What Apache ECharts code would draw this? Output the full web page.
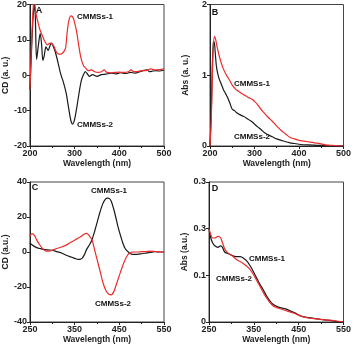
<!DOCTYPE html>
<html>
<head>
<meta charset="utf-8">
<script src="https://cdn.jsdelivr.net/npm/echarts@6/dist/echarts.min.js"></script>
<style>
  html, body { margin: 0; padding: 0; background: #fff; }
  #chart { width: 354px; height: 348px; }
</style>
</head>
<body>
<div id="chart"></div>
<script>
// Panel A: CD, 200-500 nm
const aRedWave = [200,202,204,206,208,210,212,215,218,222,
  226,232,239,244,247,252,256,260,265,269,
  273,277,280,283,287,292,297,302,305,309,
  314,320,325,331,338,345,352,360,366,372,
  380,390,400,410,420,426,432,440,450,460,
  470,480,490,500]
const aRedCD = [-4,3,10,16,20,21,19,16.5,15,13,
  11.8,9.9,8.6,9,9.1,8.6,7.5,6.4,6,6,
  6.3,6.9,7.8,11.7,15.4,16.8,16.2,13.8,12,8.6,
  5,2.7,2,1.3,1.5,1,0.8,1,1.5,0.8,
  0.7,0.8,0.9,0.8,1,1.5,1,1,1.3,1.3,
  1.8,1.5,1.6,1.8]
const aBlackWave = [200,202,204,206,208,210,212,215,219,223,
  226,229,232,236,241,244,248,252,257,263,
  269,275,281,287,292,296,300,305,310,315,
  320,324,328,333,340,350,360,370,381,392,
  403,414,425,435,446,455,462,468,475,483,
  490,500]
const aBlackCD = [-4,2,8,14,18,20,17,4.5,8.5,11.8,
  9,4.2,5.5,8,7,8,9.1,8.2,6.5,3.5,
  0.3,-2,-5,-9.5,-13,-13.8,-12.5,-9,-5,-1.5,
  0.2,1,0.5,-0.3,0.2,-0.3,0.2,0.3,0.6,0.4,
  0.7,0.5,0.8,0.6,1,1.4,1.5,1,1.2,1.3,
  1.2,1.5]

// Panel B: absorbance, 200-500 nm
const bRedWave = [200,203,205,207,210,213,216,220,225,230,
  237,244,250,258,265,272,280,288,295,300,
  305,312,320,330,340,350,360,370,380,390,
  400,410,420,430,440,450,460,470,480,490,
  500]
const bRedAbs = [0,0.4,0.9,1.35,1.55,1.5,1.4,1.29,1.18,1.09,
  1.0,0.93,0.86,0.8,0.77,0.74,0.71,0.68,0.66,0.63,
  0.6,0.54,0.48,0.41,0.35,0.28,0.22,0.17,0.12,0.1,
  0.08,0.07,0.06,0.05,0.04,0.03,0.015,0.01,0.005,0,
  0]
const bBlackWave = [200,203,205,207,208,210,212,215,220,225,
  230,235,240,245,250,255,260,268,275,283,
  290,295,300,307,315,322,330,340,350,360,
  370,380,390,400,420,440,460,480,500]
const bBlackAbs = [0,0.5,1.1,1.4,1.48,1.45,1.3,1.1,0.96,0.88,
  0.8,0.74,0.68,0.6,0.52,0.5,0.47,0.44,0.42,0.39,
  0.36,0.34,0.31,0.27,0.23,0.19,0.16,0.13,0.1,0.08,
  0.06,0.045,0.035,0.025,0.015,0.01,0.005,0,0]

// Panel C: CD, 250-550 nm
const cBlackWave = [250,258,265,272,280,290,300,310,322,333,
  344,352,358,362,367,372,377,383,389,395,
  401,407,413,419,424,428,432,437,442,447,
  452,458,463,468,474,480,490,500,510,520,
  530,540,550]
const cBlackCD = [5,3.5,2.5,2,1.5,1.2,1,0.2,-0.7,-2,
  -3,-3.8,-4.2,-4.2,-3.5,-1.5,1.5,4,7,12,
  17.5,23,27.5,30.2,30.8,30.5,29,25,20,14.5,
  10,5,2,0.5,-0.8,-1.3,-1.3,-1,-0.6,-0.2,
  0.2,0,0]
const cRedWave = [250,255,260,265,272,280,287,293,300,310,
  322,335,345,355,365,372,377,382,389,395,
  402,408,414,420,426,432,438,444,450,456,
  462,468,474,480,490,500,510,520,530,540,
  550]
const cRedCD = [9,10.5,9.5,7,4,1.5,0.5,0.5,1,2,
  3,4.5,6,7.5,9,10.3,10.7,9.5,6.9,1,
  -6,-12,-18,-22,-24,-24.5,-22.5,-18,-13.5,-9,
  -5,-2,-0.5,0,0,0.2,0.3,0.5,0.3,0.1,
  0]

// Panel D: absorbance, 250-550 nm
const dBlackWave = [250,254,258,263,270,276,280,285,292,300,
  310,320,327,335,342,348,355,362,370,380,
  392,405,421,440,457,472,487,500,515,530,
  550]
const dBlackAbs = [0.3,0.27,0.255,0.245,0.24,0.245,0.24,0.225,0.22,0.215,
  0.21,0.21,0.205,0.195,0.18,0.165,0.145,0.125,0.106,0.08,
  0.058,0.048,0.042,0.03,0.018,0.014,0.011,0.008,0.006,0.003,
  0]
const dRedWave = [250,254,258,263,270,276,280,285,292,300,
  312,325,341,352,363,375,392,405,421,440,
  457,475,490,508,530,550]
const dRedAbs = [0.3,0.28,0.27,0.27,0.275,0.27,0.255,0.235,0.222,0.215,
  0.2,0.19,0.17,0.145,0.117,0.085,0.053,0.044,0.037,0.028,
  0.018,0.012,0.01,0.007,0.004,0]
const dTickLabels = ['0', '0.1', '0.3', '0.3']

const RED = '#ee2b2b'
const BLACK = '#1a1a1a'
const FONT = '"Liberation Sans", Arial, sans-serif'

const zip = (xs, ys) => xs.map((x, i) => [x, ys[i]])

const grids = [
  { left: 27, top: 4, width: 137, height: 142 },
  { left: 210, top: 4, width: 135, height: 142 },
  { left: 27, top: 182, width: 137, height: 140 },
  { left: 209, top: 182, width: 137, height: 140 }
].map(g => ({ ...g, show: true, borderColor: '#444', borderWidth: 1, containLabel: false }))

const makeX = (gridIndex, min, max, nameGap) => ({
  type: 'value',
  gridIndex,
  min,
  max,
  interval: 100,
  name: 'Wavelength (nm)',
  nameLocation: 'middle',
  nameGap,
  nameTextStyle: { fontFamily: FONT, fontWeight: 'bold', fontSize: 8.5, color: '#222' },
  axisLine: { onZero: false, lineStyle: { color: '#222', width: 1 } },
  axisTick: { length: 3, lineStyle: { color: '#222' } },
  minorTick: { show: true, splitNumber: 2, length: 2, lineStyle: { color: '#222' } },
  axisLabel: { fontFamily: FONT, fontWeight: 'bold', fontSize: 9, color: '#222', margin: 3 },
  splitLine: { show: false }
})

const makeY = (gridIndex, min, max, interval, name, nameGap, formatter) => ({
  type: 'value',
  gridIndex,
  min,
  max,
  interval,
  name,
  nameLocation: 'middle',
  nameGap,
  nameRotate: 90,
  nameTextStyle: { fontFamily: FONT, fontWeight: 'bold', fontSize: 8.5, color: '#222' },
  axisLine: { show: true, onZero: false, lineStyle: { color: '#222', width: 1 } },
  axisTick: { show: true, length: 3, lineStyle: { color: '#222' } },
  axisLabel: { fontFamily: FONT, fontWeight: 'bold', fontSize: 9, color: '#222', margin: 3, formatter },
  splitLine: { show: false }
})

const line = (xi, data, color) => ({
  type: 'line',
  xAxisIndex: xi,
  yAxisIndex: xi,
  data,
  smooth: 0.3,
  symbol: 'none',
  lineStyle: { color, width: 1.2 }
})

const label = (text, x, y, size = 8) => ({
  type: 'text',
  x,
  y,
  style: {
    text,
    fill: '#111',
    font: `bold ${size}px ${FONT}`,
    align: 'center',
    verticalAlign: 'middle'
  }
})

const chart = echarts.init(document.getElementById('chart'))

chart.setOption({
  animation: false,
  backgroundColor: '#fff',
  grid: grids,
  xAxis: [
    makeX(0, 200, 500, 12),
    makeX(1, 200, 500, 12),
    makeX(2, 250, 550, 11),
    makeX(3, 250, 550, 11)
  ],
  yAxis: [
    makeY(0, -20, 20, 10, 'CD (a. u.)', 16),
    makeY(1, 0, 2, 1, 'Abs (a. u.)', 20),
    makeY(2, -40, 40, 20, 'CD (a.u.)', 16),
    makeY(3, 0, 0.45, 0.15, 'Abs (a.u.)', 17, v => dTickLabels[Math.round(v / 0.15)])
  ],
  series: [
    line(0, zip(aBlackWave, aBlackCD), BLACK),
    line(0, zip(aRedWave, aRedCD), RED),
    line(1, zip(bBlackWave, bBlackAbs), BLACK),
    line(1, zip(bRedWave, bRedAbs), RED),
    line(2, zip(cBlackWave, cBlackCD), BLACK),
    line(2, zip(cRedWave, cRedCD), RED),
    line(3, zip(dBlackWave, dBlackAbs), BLACK),
    line(3, zip(dRedWave, dRedAbs), RED)
  ],
  graphic: [
    label('A', 39, 11, 9),
    label('CMMSs-1', 95, 17),
    label('CMMSs-2', 95, 125),
    label('B', 215, 13, 9),
    label('CMMSs-1', 252, 84),
    label('CMMSs-2', 252, 137),
    label('C', 35, 188, 9),
    label('CMMSs-1', 109, 191),
    label('CMMSs-2', 113, 304),
    label('D', 215, 189, 9),
    label('CMMSs-1', 267, 259),
    label('CMMSs-2', 234, 279)
  ]
})
</script>
</body>
</html>
